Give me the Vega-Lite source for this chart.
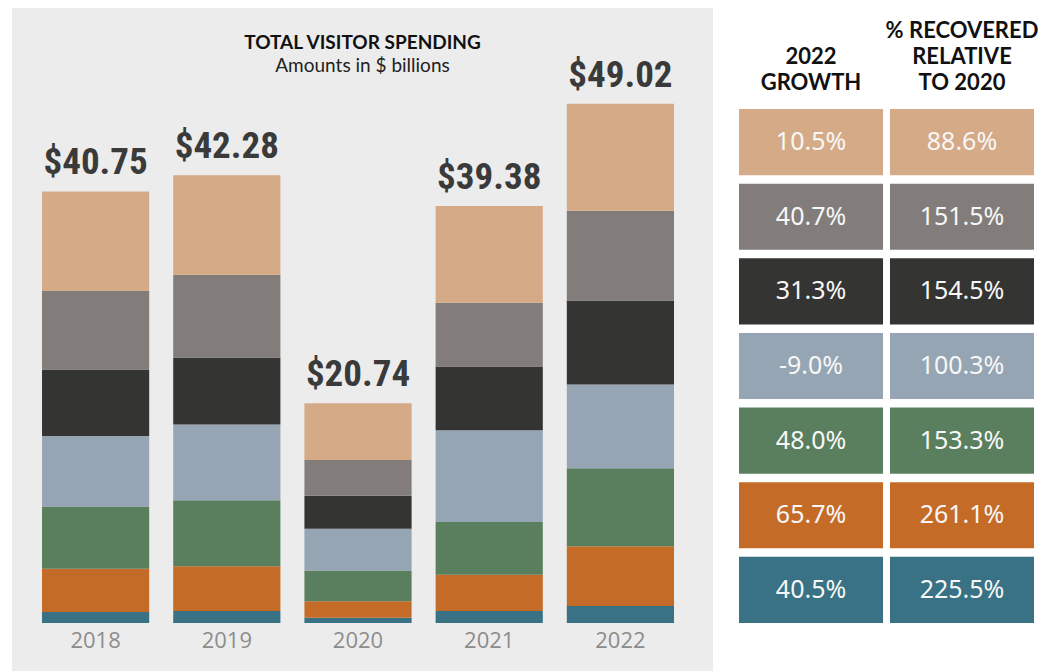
{
  "$schema": "https://vega.github.io/schema/vega-lite/v6.json",
  "padding": {"left": 12, "top": 8, "right": 0, "bottom": 0},
  "background": "white",
  "spacing": 26,
  "config": {
    "locale": {"number": {"decimal": ".", "thousands": ",", "grouping": [3], "currency": ["$", ""], "minus": "-"}},
    "view": {"stroke": null}
  },
  "datasets": {
    "spend": [
      {"year": "2018", "category": "Other", "seq": 1, "amount": 1.04},
      {"year": "2018", "category": "Air", "seq": 2, "amount": 4.08},
      {"year": "2018", "category": "Recreation", "seq": 3, "amount": 5.89},
      {"year": "2018", "category": "Transportation", "seq": 4, "amount": 6.65},
      {"year": "2018", "category": "Retail", "seq": 5, "amount": 6.27},
      {"year": "2018", "category": "Food & Beverage", "seq": 6, "amount": 7.41},
      {"year": "2018", "category": "Lodging", "seq": 7, "amount": 9.41},
      {"year": "2019", "category": "Other", "seq": 1, "amount": 1.13},
      {"year": "2019", "category": "Air", "seq": 2, "amount": 4.24},
      {"year": "2019", "category": "Recreation", "seq": 3, "amount": 6.22},
      {"year": "2019", "category": "Transportation", "seq": 4, "amount": 7.16},
      {"year": "2019", "category": "Retail", "seq": 5, "amount": 6.31},
      {"year": "2019", "category": "Food & Beverage", "seq": 6, "amount": 7.82},
      {"year": "2019", "category": "Lodging", "seq": 7, "amount": 9.40},
      {"year": "2020", "category": "Other", "seq": 1, "amount": 0.49},
      {"year": "2020", "category": "Air", "seq": 2, "amount": 1.57},
      {"year": "2020", "category": "Recreation", "seq": 3, "amount": 2.90},
      {"year": "2020", "category": "Transportation", "seq": 4, "amount": 3.95},
      {"year": "2020", "category": "Retail", "seq": 5, "amount": 3.11},
      {"year": "2020", "category": "Food & Beverage", "seq": 6, "amount": 3.37},
      {"year": "2020", "category": "Lodging", "seq": 7, "amount": 5.35},
      {"year": "2021", "category": "Other", "seq": 1, "amount": 1.14},
      {"year": "2021", "category": "Air", "seq": 2, "amount": 3.42},
      {"year": "2021", "category": "Recreation", "seq": 3, "amount": 4.97},
      {"year": "2021", "category": "Transportation", "seq": 4, "amount": 8.66},
      {"year": "2021", "category": "Retail", "seq": 5, "amount": 6.03},
      {"year": "2021", "category": "Food & Beverage", "seq": 6, "amount": 6.03},
      {"year": "2021", "category": "Lodging", "seq": 7, "amount": 9.13},
      {"year": "2022", "category": "Other", "seq": 1, "amount": 1.60},
      {"year": "2022", "category": "Air", "seq": 2, "amount": 5.66},
      {"year": "2022", "category": "Recreation", "seq": 3, "amount": 7.35},
      {"year": "2022", "category": "Transportation", "seq": 4, "amount": 7.92},
      {"year": "2022", "category": "Retail", "seq": 5, "amount": 7.92},
      {"year": "2022", "category": "Food & Beverage", "seq": 6, "amount": 8.48},
      {"year": "2022", "category": "Lodging", "seq": 7, "amount": 10.09}
    ],
    "totals": [
      {"year": "2018", "total": 40.75},
      {"year": "2019", "total": 42.28},
      {"year": "2020", "total": 20.74},
      {"year": "2021", "total": 39.38},
      {"year": "2022", "total": 49.02}
    ],
    "table": [
      {"category": "Lodging", "column": "2022 GROWTH", "pct": 0.105},
      {"category": "Lodging", "column": "% RECOVERED RELATIVE TO 2020", "pct": 0.886},
      {"category": "Food & Beverage", "column": "2022 GROWTH", "pct": 0.407},
      {"category": "Food & Beverage", "column": "% RECOVERED RELATIVE TO 2020", "pct": 1.515},
      {"category": "Retail", "column": "2022 GROWTH", "pct": 0.313},
      {"category": "Retail", "column": "% RECOVERED RELATIVE TO 2020", "pct": 1.545},
      {"category": "Transportation", "column": "2022 GROWTH", "pct": -0.09},
      {"category": "Transportation", "column": "% RECOVERED RELATIVE TO 2020", "pct": 1.003},
      {"category": "Recreation", "column": "2022 GROWTH", "pct": 0.48},
      {"category": "Recreation", "column": "% RECOVERED RELATIVE TO 2020", "pct": 1.533},
      {"category": "Air", "column": "2022 GROWTH", "pct": 0.657},
      {"category": "Air", "column": "% RECOVERED RELATIVE TO 2020", "pct": 2.611},
      {"category": "Other", "column": "2022 GROWTH", "pct": 0.405},
      {"category": "Other", "column": "% RECOVERED RELATIVE TO 2020", "pct": 2.255}
    ]
  },
  "hconcat": [
    {
      "width": 701,
      "height": 663,
      "view": {"fill": "#ececec", "stroke": null},
      "title": {
        "text": "TOTAL VISITOR SPENDING",
        "subtitle": "Amounts in $ billions",
        "anchor": "middle",
        "offset": -68,
        "font": "Lato",
        "fontSize": 19,
        "fontWeight": "bold",
        "color": "#111111",
        "subtitleFont": "Lato",
        "subtitleFontSize": 19,
        "subtitleColor": "#222222",
        "subtitlePadding": 4
      },
      "layer": [
        {
          "data": {"name": "spend"},
          "mark": {"type": "bar"},
          "encoding": {
            "x": {"field": "year", "type": "ordinal", "scale": {"paddingInner": 0.183, "paddingOuter": 0.263, "align": 0.435}, "axis": null},
            "y": {"field": "amount", "type": "quantitative", "stack": "zero", "scale": {"domain": [-4.53, 58.07], "nice": false, "zero": false}, "axis": null},
            "color": {
              "field": "category",
              "type": "nominal",
              "scale": {
                "domain": ["Lodging", "Food & Beverage", "Retail", "Transportation", "Recreation", "Air", "Other"],
                "range": ["#d5aa87", "#827d7b", "#343432", "#96a5b3", "#5a7f5e", "#c56b28", "#387284"]
              },
              "legend": null
            },
            "order": {"field": "seq", "type": "quantitative"}
          }
        },
        {
          "data": {"name": "totals"},
          "mark": {"type": "text", "font": "Roboto Condensed, Roboto, sans-serif", "fontSize": 37, "fontWeight": "bold", "color": "#3a3a3a", "baseline": "alphabetic", "dy": -17},
          "encoding": {
            "x": {"field": "year", "type": "ordinal"},
            "y": {"field": "total", "type": "quantitative"},
            "text": {"field": "total", "type": "quantitative", "format": "$.2f"}
          }
        },
        {
          "data": {"name": "totals"},
          "mark": {"type": "text", "font": "Open Sans", "fontSize": 22, "color": "#8c8c8c", "baseline": "middle"},
          "encoding": {
            "x": {"field": "year", "type": "ordinal"},
            "y": {"datum": -1.7},
            "text": {"field": "year"}
          }
        }
      ]
    },
    {
      "width": 295,
      "height": 663,
      "data": {"name": "table"},
      "encoding": {
        "x": {
          "field": "column",
          "type": "nominal",
          "sort": ["2022 GROWTH", "% RECOVERED RELATIVE TO 2020"],
          "scale": {"paddingInner": 0.046, "paddingOuter": 0},
          "axis": {
            "orient": "top",
            "offset": -38,
            "title": null,
            "domain": false,
            "ticks": false,
            "labelAngle": 0,
            "labelPadding": 4,
            "labelFont": "Lato",
            "labelFontSize": 22,
            "labelFontWeight": "bold",
            "labelColor": "#111111",
            "labelBaseline": "bottom",
            "labelLineHeight": 26,
            "labelOverlap": false,
            "labelLimit": 300,
            "labelExpr": "datum.label == '2022 GROWTH' ? ['', '2022', 'GROWTH'] : ['% RECOVERED', 'RELATIVE', 'TO 2020']"
          }
        },
        "y": {
          "field": "category",
          "type": "nominal",
          "sort": ["Lodging", "Food & Beverage", "Retail", "Transportation", "Recreation", "Air", "Other"],
          "scale": {"paddingInner": 0.114, "paddingOuter": 0.9987, "align": 0.678},
          "axis": null
        }
      },
      "layer": [
        {
          "mark": {"type": "rect"},
          "encoding": {
            "color": {
              "field": "category",
              "type": "nominal",
              "scale": {
                "domain": ["Lodging", "Food & Beverage", "Retail", "Transportation", "Recreation", "Air", "Other"],
                "range": ["#d5aa87", "#827d7b", "#343432", "#96a5b3", "#5a7f5e", "#c56b28", "#387284"]
              },
              "legend": null
            }
          }
        },
        {
          "mark": {"type": "text", "font": "Noto Sans", "fontSize": 25, "color": "#f7f7f7", "baseline": "middle"},
          "encoding": {
            "text": {"field": "pct", "type": "quantitative", "format": ".1%"}
          }
        }
      ]
    }
  ]
}
